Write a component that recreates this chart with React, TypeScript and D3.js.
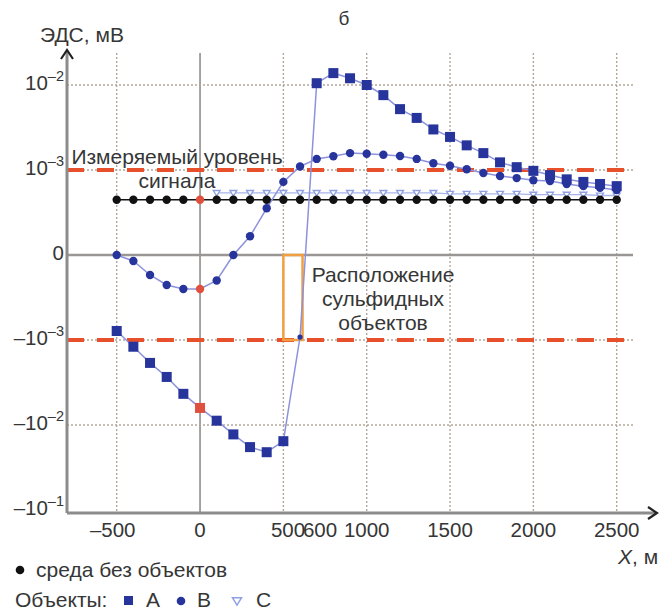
import React from 'react';
import * as d3 from 'd3';

// Distances along profile, m
const DIST = [-500, -400, -300, -200, -100, 0, 100, 200, 300, 400, 500, 600, 700, 800, 900, 1000,
  1100, 1200, 1300, 1400, 1500, 1600, 1700, 1800, 1900, 2000, 2100, 2200, 2300, 2400, 2500];

// EMF, mV — object A (squares)
const SERIES_A = [-0.894e-3, -1.2e-3, -1.86e-3, -2.72e-3, -4.3e-3, -6.3e-3, -8.9e-3, -1.29e-2, -1.82e-2,
  -2.09e-2, -1.55e-2, -0.965e-3, 1.05e-2, 1.38e-2, 1.2e-2, 1.0e-2, 7.6e-3, 5.2e-3, 4.1e-3, 3.0e-3,
  2.45e-3, 1.95e-3, 1.58e-3, 1.23e-3, 1.08e-3, 0.99e-3, 0.94e-3, 0.89e-3, 0.86e-3, 0.835e-3, 0.81e-3];

// EMF, mV — object B (circles)
const SERIES_B = [0, -0.07e-3, -0.235e-3, -0.353e-3, -0.4e-3, -0.4e-3, -0.3e-3, 0, 0.22e-3, 0.55e-3,
  0.86e-3, 1.1e-3, 1.35e-3, 1.45e-3, 1.58e-3, 1.55e-3, 1.51e-3, 1.46e-3, 1.35e-3, 1.2e-3, 1.12e-3,
  1.02e-3, 0.965e-3, 0.93e-3, 0.905e-3, 0.88e-3, 0.87e-3, 0.835e-3, 0.81e-3, 0.79e-3, 0.765e-3];

// EMF, mV — object C (open triangles), from 100 m
const DIST_C = [100, 200, 300, 400, 500, 600, 700, 800, 900, 1000, 1100, 1200, 1300, 1400, 1500,
  1600, 1700, 1800, 1900, 2000, 2100, 2200, 2300, 2400, 2500];
const SERIES_C = [0.73e-3, 0.73e-3, 0.73e-3, 0.73e-3, 0.73e-3, 0.73e-3, 0.73e-3, 0.73e-3, 0.73e-3,
  0.73e-3, 0.73e-3, 0.73e-3, 0.73e-3, 0.73e-3, 0.72e-3, 0.72e-3, 0.72e-3, 0.72e-3, 0.72e-3, 0.71e-3,
  0.71e-3, 0.71e-3, 0.71e-3, 0.70e-3, 0.70e-3];

// EMF, mV — medium without objects
const SERIES_BASE = [0.65e-3, 0.65e-3, 0.65e-3, 0.65e-3, 0.65e-3, 0.65e-3, 0.65e-3, 0.65e-3, 0.65e-3,
  0.65e-3, 0.65e-3, 0.65e-3, 0.65e-3, 0.65e-3, 0.65e-3, 0.65e-3, 0.65e-3, 0.65e-3, 0.65e-3, 0.65e-3,
  0.65e-3, 0.65e-3, 0.65e-3, 0.65e-3, 0.65e-3, 0.65e-3, 0.65e-3, 0.65e-3, 0.65e-3, 0.65e-3, 0.65e-3];

const Y_TICKS = [1e-2, 1e-3, 0, -1e-3, -1e-2, -1e-1];
const Y_TICK_BASE = ['10', '10', '0', '\u201310', '\u201310', '\u201310'];
const Y_TICK_EXP = ['\u20132', '\u20133', '', '\u20133', '\u20132', '\u20131'];
const X_GRID = [-500, 500, 1000, 1500, 2000, 2500];
const X_TICKS = [-500, 0, 1000, 1500, 2000, 2500];
const X_TICK_LABELS = ['\u2013500', '0', '1000', '1500', '2000', '2500'];
const MEASURABLE_LEVEL = [1e-3, -1e-3];
const OBJECT_SPAN = [500, 615];

const FONT = '"Liberation Sans", Arial, Helvetica, sans-serif';
const TXT = '#363636';
const BLUE = '#27349b';
const LINE_BLUE = '#8d92dc';
const RED_PT = '#e0503f';

// symmetric scale: linear within ±1e-3, one decade per unit outside
const tf = (v: number) => {
  const a = Math.abs(v);
  if (a <= 1e-3) return v / 1e-3;
  return Math.sign(v) * (Math.log10(a) + 4);
};

export default function App() {
  const x = d3.scaleLinear().domain([-500, 2500]).range([116.7, 616.7]);
  const yl = d3.scaleLinear().domain([-3, 2]).range([510, 85]);
  const y = (v: number) => yl(tf(v));

  const plotL = 67, plotR = 633, plotT = 53, plotB = 513;

  const line = d3.line<[number, number]>().x(d => x(d[0])).y(d => y(d[1]));
  const ptsA = DIST.map((d, i) => [d, SERIES_A[i]] as [number, number]);
  const ptsB = DIST.map((d, i) => [d, SERIES_B[i]] as [number, number]);
  const ptsC = DIST_C.map((d, i) => [d, SERIES_C[i]] as [number, number]);
  const ptsBase = DIST.map((d, i) => [d, SERIES_BASE[i]] as [number, number]);

  const tri = (cx: number, cy: number, s: number) =>
    `M${cx - s},${cy - s * 0.7}L${cx + s},${cy - s * 0.7}L${cx},${cy + s * 0.9}Z`;

  const FS = 21;

  return (
    <svg width={672} height={612} style={{ position: 'absolute', left: 0, top: 0, background: '#fff' }}
      fontFamily={FONT}>
      <rect x={0} y={0} width={672} height={612} fill="#fff" />
      {/* title */}
      <text x={344} y={25} fontSize={19} fill={TXT} textAnchor="middle">б</text>
      <text x={40} y={42} fontSize={FS} fill={TXT}>ЭДС, мВ</text>

      {/* vertical grid */}
      {X_GRID.map(g => (
        <line key={'vg' + g} x1={x(g)} x2={x(g)} y1={plotT} y2={plotB} stroke="#b3a79c" strokeWidth={1.4}
          strokeDasharray="2,2" />
      ))}
      <line x1={x(0)} x2={x(0)} y1={plotT} y2={plotB} stroke="#8a8580" strokeWidth={1.5} />
      {/* horizontal grid */}
      {[1e-2, -1e-2, 1e-3, -1e-3].map(g => (
        <line key={'hg' + g} x1={plotL} x2={plotR} y1={y(g)} y2={y(g)} stroke="#b3a79c" strokeWidth={1.4}
          strokeDasharray="2,2" />
      ))}
      <line x1={plotL} x2={plotR} y1={y(0)} y2={y(0)} stroke="#9a9694" strokeWidth={2.5} />

      {/* measurable level */}
      {MEASURABLE_LEVEL.map(l => (
        <line key={'ml' + l} x1={plotL} x2={plotR} y1={y(l)} y2={y(l)} stroke="#e8502c" strokeWidth={4}
          strokeDasharray="17,13" />
      ))}

      {/* object location */}
      <rect x={x(OBJECT_SPAN[0])} y={y(0)} width={x(OBJECT_SPAN[1]) - x(OBJECT_SPAN[0])}
        height={y(-1e-3) - y(0)} fill="none" stroke="#f0a040" strokeWidth={2.5} />

      {/* axes */}
      <line x1={plotL} x2={plotL} y1={plotB} y2={52} stroke="#8c8c8c" strokeWidth={3} />
      <path d={`M${plotL - 6},${59}L${plotL},${50}L${plotL + 6},${59}`} fill="none" stroke="#222" strokeWidth={2.2} />
      <line x1={plotL} x2={655} y1={plotB} y2={plotB} stroke="#8c8c8c" strokeWidth={3} />
      <path d={`M${648},${507}L${657},${plotB}L${648},${519}`} fill="none" stroke="#222" strokeWidth={2.2} />

      {/* y tick labels */}
      {Y_TICKS.map((t, i) => (
        <text key={'yt' + i} x={64} y={y(t) + 5} fontSize={20.5} fill={TXT} textAnchor="end">
          {Y_TICK_BASE[i]}
          {Y_TICK_EXP[i] && <tspan dy={-9} fontSize={14.5}>{Y_TICK_EXP[i]}</tspan>}
        </text>
      ))}
      {/* x tick labels */}
      {X_TICKS.map((t, i) => (
        <text key={'xt' + i} x={x(t) + (t < 0 ? -4 : 0)} y={537} fontSize={20.5} fill={TXT} textAnchor="middle">
          {X_TICK_LABELS[i]}
        </text>
      ))}
      <text x={288} y={537} fontSize={20.5} fill={TXT} textAnchor="middle">500</text>
      <text x={320} y={537} fontSize={20.5} fill={TXT} textAnchor="middle">600</text>
      <text x={618} y={564} fontSize={FS} fill={TXT}><tspan fontStyle="italic">X</tspan>, м</text>

      {/* annotations */}
      <text x={177} y={164} fontSize={FS} fill={TXT} textAnchor="middle">Измеряемый уровень</text>
      <text x={177} y={188} fontSize={FS} fill={TXT} textAnchor="middle">сигнала</text>
      <text x={383} y={282} fontSize={FS} fill={TXT} textAnchor="middle">Расположение</text>
      <text x={383} y={306} fontSize={FS} fill={TXT} textAnchor="middle">сульфидных</text>
      <text x={383} y={330} fontSize={FS} fill={TXT} textAnchor="middle">объектов</text>

      {/* series lines */}
      <path d={line(ptsBase) || ''} fill="none" stroke="#111" strokeWidth={1.3} />
      <path d={line(ptsC) || ''} fill="none" stroke="#a9b5ea" strokeWidth={1.3} />
      <path d={line(ptsB) || ''} fill="none" stroke={LINE_BLUE} strokeWidth={1.5} />
      <path d={line(ptsA) || ''} fill="none" stroke={LINE_BLUE} strokeWidth={1.5} />

      {/* markers */}
      {ptsC.map(([d, v], i) => (
        <path key={'c' + i} d={tri(x(d), y(v), 3.4)} fill="#fff" stroke="#8fa0e2" strokeWidth={1.4} />
      ))}
      {ptsBase.map(([d, v], i) => (
        <circle key={'k' + i} cx={x(d)} cy={y(v)} r={4.2} fill={d === 0 ? RED_PT : '#111'} />
      ))}
      {ptsB.map(([d, v], i) => (
        <circle key={'b' + i} cx={x(d)} cy={y(v)} r={4.2} fill={d === 0 ? RED_PT : BLUE} />
      ))}
      {ptsA.map(([d, v], i) => (
        d === 600
          ? <circle key={'a' + i} cx={x(d)} cy={y(v)} r={2.6} fill={BLUE} />
          : <rect key={'a' + i} x={x(d) - 5} y={y(v) - 5} width={10} height={10} fill={d === 0 ? RED_PT : BLUE} />
      ))}

      {/* legend */}
      <circle cx={20} cy={570} r={4.3} fill="#111" />
      <text x={36} y={577} fontSize={FS} fill={TXT}>среда без объектов</text>
      <text x={15} y={607} fontSize={FS} fill={TXT}>Объекты:</text>
      <rect x={124} y={596} width={9} height={9} fill={BLUE} />
      <text x={146} y={607} fontSize={FS} fill={TXT}>A</text>
      <circle cx={181} cy={601} r={4.3} fill={BLUE} />
      <text x={197} y={607} fontSize={FS} fill={TXT}>B</text>
      <path d={tri(237, 601, 4.5)} fill="#fff" stroke="#8fa0e2" strokeWidth={1.5} />
      <text x={256} y={607} fontSize={FS} fill={TXT}>C</text>
    </svg>
  );
}
